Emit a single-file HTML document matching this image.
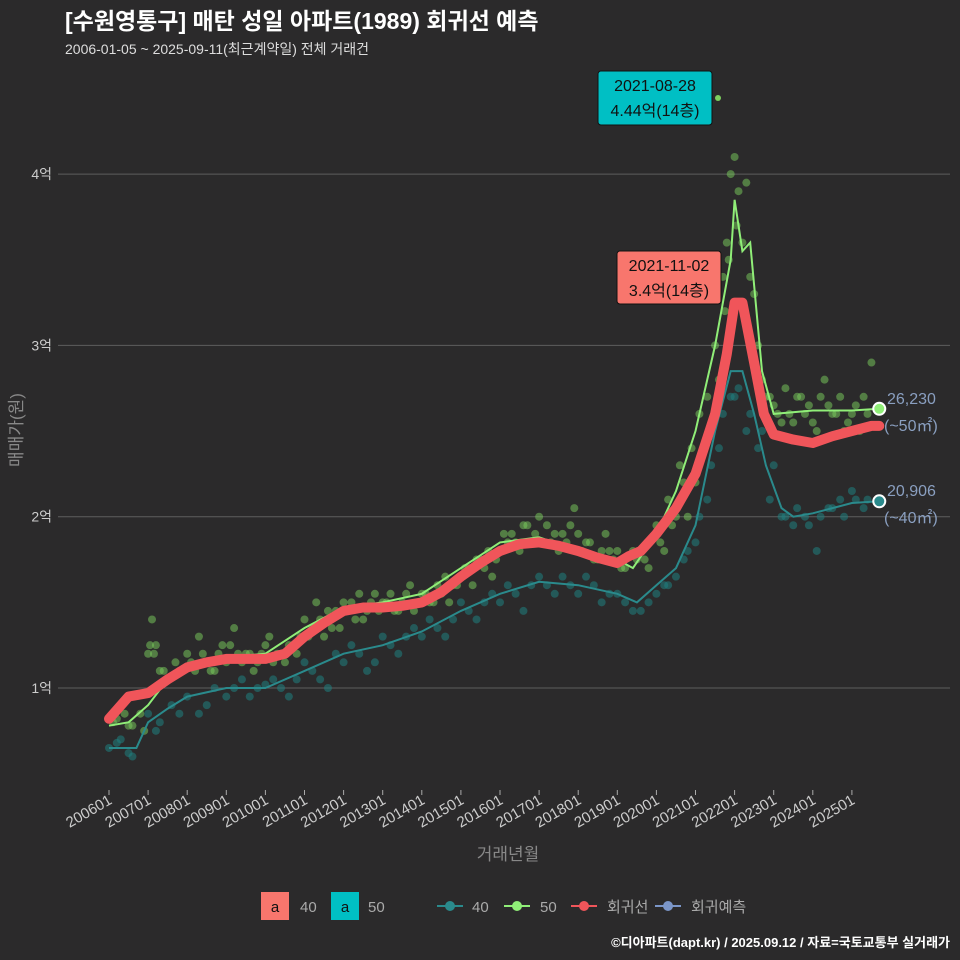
<!DOCTYPE html>
<html><head><meta charset="utf-8">
<style>
body{margin:0;background:#2b2a2b;}
svg{display:block;font-family:"Liberation Sans","Noto Sans CJK KR",sans-serif;}
</style></head>
<body>
<svg id="c" width="960" height="960">
<rect width="960" height="960" fill="#2b2a2b"/>
<text x="65" y="29" fill="#fff" font-size="23" font-weight="bold">[수원영통구] 매탄 성일 아파트(1989) 회귀선 예측</text>
<text x="65" y="54" fill="#ddd" font-size="14">2006-01-05 ~ 2025-09-11(최근계약일) 전체 거래건</text>
<g id="grid"></g><g id="xaxis"></g><g id="marks"></g>
<text transform="translate(22,430) rotate(-90)" text-anchor="middle" fill="#888" font-size="17">매매가(원)</text>
<text x="508" y="860" text-anchor="middle" fill="#888" font-size="17">거래년월</text>
<g font-size="15" fill="#aaa">
<rect x="261" y="892" width="28" height="28" fill="#f8766d"/>
<text x="275" y="912" text-anchor="middle" fill="#111">a</text><text x="300" y="912">40</text>
<rect x="331" y="892" width="28" height="28" fill="#00bfc4"/>
<text x="345" y="912" text-anchor="middle" fill="#111">a</text><text x="368" y="912">50</text>
<line x1="437" y1="906" x2="463" y2="906" stroke="#2a8a8c" stroke-width="2"/><circle cx="450" cy="906" r="5" fill="#2a8a8c"/><text x="472" y="912">40</text>
<line x1="504" y1="906" x2="530" y2="906" stroke="#90ee78" stroke-width="2"/><circle cx="517" cy="906" r="5" fill="#90ee78"/><text x="540" y="912">50</text>
<line x1="571" y1="906" x2="597" y2="906" stroke="#f0555a" stroke-width="2"/><circle cx="584" cy="906" r="5" fill="#f0555a"/><text x="607" y="912">회귀선</text>
<line x1="655" y1="906" x2="681" y2="906" stroke="#7b96c8" stroke-width="2"/><circle cx="668" cy="906" r="5" fill="#7b96c8"/><text x="691" y="912">회귀예측</text>
</g>
<text x="950" y="947" text-anchor="end" fill="#fff" font-size="13" font-weight="bold">©디아파트(dapt.kr) / 2025.09.12 / 자료=국토교통부 실거래가</text>
</svg>
<script>
const yTicks=[1,2,3,4];
const yTickLabels=["1억","2억","3억","4억"];
const xTickYears=[2006,2007,2008,2009,2010,2011,2012,2013,2014,2015,2016,2017,2018,2019,2020,2021,2022,2023,2024,2025];
const regT=[2006.0,2006.5,2007.0,2007.5,2008.0,2008.5,2009.0,2009.5,2010.0,2010.5,2011.0,2011.5,2012.0,2012.5,2013.0,2013.5,2014.0,2014.5,2015.0,2015.5,2016.0,2016.5,2017.0,2017.5,2018.0,2018.5,2019.0,2019.3,2019.6,2020.0,2020.5,2021.0,2021.5,2021.8,2022.0,2022.2,2022.5,2022.75,2023.0,2023.5,2024.0,2024.5,2025.0,2025.5,2025.7];
const regV=[0.82,0.95,0.97,1.05,1.12,1.15,1.17,1.17,1.17,1.2,1.3,1.38,1.45,1.47,1.47,1.48,1.5,1.56,1.65,1.73,1.8,1.84,1.85,1.83,1.8,1.76,1.73,1.77,1.8,1.9,2.05,2.25,2.6,2.95,3.25,3.25,2.9,2.6,2.48,2.45,2.43,2.47,2.5,2.53,2.53];
const g50T=[2006.0,2006.5,2007.0,2007.5,2008.0,2009.0,2010.0,2011.0,2012.0,2013.0,2014.0,2015.0,2016.0,2017.0,2018.0,2019.0,2019.4,2020.0,2020.5,2021.0,2021.5,2021.9,2022.0,2022.2,2022.4,2022.7,2023.0,2024.0,2025.0,2025.7];
const g50V=[0.78,0.8,0.9,1.05,1.1,1.18,1.2,1.35,1.47,1.5,1.55,1.7,1.85,1.88,1.8,1.75,1.7,1.9,2.15,2.5,3.0,3.5,3.85,3.55,3.6,2.85,2.6,2.62,2.62,2.63];
const g40T=[2006.0,2006.7,2007.0,2007.5,2008.0,2009.0,2010.0,2011.0,2012.0,2013.0,2014.0,2015.0,2016.0,2017.0,2018.0,2019.0,2019.5,2020.0,2020.5,2021.0,2021.5,2021.9,2022.2,2022.5,2022.8,2023.2,2023.5,2024.0,2025.0,2025.7];
const g40V=[0.65,0.65,0.8,0.88,0.95,1.0,1.0,1.1,1.2,1.25,1.33,1.45,1.55,1.62,1.6,1.55,1.5,1.6,1.7,1.95,2.5,2.85,2.85,2.6,2.3,2.05,2.0,2.02,2.08,2.09];
const s50T=[2006.1,2006.4,2006.6,2006.9,2007.0,2007.1,2007.2,2007.4,2007.7,2008.0,2008.3,2008.6,2008.9,2009.2,2009.5,2009.8,2010.1,2010.4,2010.7,2011.0,2011.3,2011.6,2011.9,2012.2,2012.5,2012.8,2013.1,2013.4,2013.7,2014.0,2014.3,2014.6,2014.9,2015.2,2015.5,2015.8,2016.1,2016.4,2016.7,2017.0,2017.3,2017.6,2017.9,2018.2,2018.5,2018.8,2019.1,2019.4,2019.7,2020.0,2020.3,2020.6,2020.9,2021.1,2021.3,2021.5,2021.7,2021.8,2021.9,2022.0,2022.1,2022.3,2022.5,2022.7,2022.9,2023.1,2023.3,2023.5,2023.7,2023.9,2024.1,2024.3,2024.5,2024.7,2024.9,2025.1,2025.3,2025.5];
const s50V=[0.8,0.85,0.78,0.75,1.2,1.4,1.25,1.1,1.15,1.2,1.3,1.1,1.25,1.35,1.2,1.15,1.3,1.2,1.25,1.4,1.5,1.45,1.35,1.5,1.4,1.55,1.5,1.45,1.6,1.55,1.5,1.65,1.6,1.7,1.75,1.65,1.9,1.85,1.95,2.0,1.85,1.9,2.05,1.85,1.75,1.8,1.7,1.8,1.75,1.95,2.1,2.3,2.4,2.6,2.7,3.0,3.4,3.6,4.0,4.1,3.9,3.95,3.3,2.8,2.7,2.6,2.75,2.55,2.7,2.65,2.5,2.8,2.6,2.7,2.55,2.65,2.7,2.9];
const s50bT=[2006.2,2006.5,2006.8,2007.05,2007.15,2007.3,2007.5,2007.8,2008.1,2008.2,2008.4,2008.5,2008.7,2008.8,2009.0,2009.1,2009.3,2009.4,2009.6,2009.7,2009.9,2010.0,2010.2,2010.3,2010.5,2010.6,2010.8,2010.9,2011.1,2011.2,2011.4,2011.5,2011.7,2011.8,2012.0,2012.1,2012.3,2012.4,2012.6,2012.7,2012.9,2013.0,2013.2,2013.3,2013.5,2013.6,2013.8,2013.9,2014.1,2014.2,2014.4,2014.5,2014.7,2014.8,2015.0,2015.1,2015.3,2015.4,2015.6,2015.7,2015.9,2016.0,2016.2,2016.3,2016.5,2016.6,2016.8,2016.9,2017.1,2017.2,2017.4,2017.5,2017.7,2017.8,2018.0,2018.1,2018.3,2018.4,2018.6,2018.7,2018.9,2019.0,2019.2,2019.5,2019.8,2020.1,2020.2,2020.4,2020.5,2020.7,2020.8,2021.0,2021.2,2021.4,2021.6,2021.75,2021.85,2022.05,2022.2,2022.4,2022.6,2022.8,2023.0,2023.2,2023.4,2023.6,2023.8,2024.0,2024.2,2024.4,2024.6,2024.8,2025.0,2025.2,2025.4];
const s50bV=[0.82,0.78,0.85,1.25,1.2,1.1,1.05,1.1,1.15,1.1,1.2,1.15,1.1,1.2,1.15,1.25,1.2,1.15,1.2,1.1,1.2,1.25,1.15,1.2,1.15,1.25,1.2,1.3,1.3,1.35,1.4,1.3,1.35,1.45,1.5,1.45,1.4,1.55,1.45,1.5,1.45,1.5,1.55,1.45,1.5,1.55,1.45,1.5,1.55,1.5,1.6,1.55,1.5,1.6,1.65,1.7,1.6,1.75,1.7,1.8,1.75,1.8,1.85,1.9,1.8,1.95,1.85,1.9,1.85,1.95,1.9,1.8,1.85,1.95,1.9,1.8,1.85,1.75,1.8,1.9,1.75,1.8,1.7,1.75,1.7,1.85,1.8,1.95,2.0,2.2,2.0,2.2,2.4,2.5,2.8,3.2,3.5,3.7,3.6,3.4,3.0,2.7,2.65,2.55,2.6,2.7,2.6,2.55,2.7,2.65,2.6,2.5,2.6,2.5,2.6];
const s40T=[2006.0,2006.3,2006.6,2007.0,2007.3,2007.6,2008.0,2008.3,2008.7,2009.0,2009.4,2009.8,2010.2,2010.6,2011.0,2011.4,2011.8,2012.2,2012.6,2013.0,2013.4,2013.8,2014.2,2014.6,2015.0,2015.4,2015.8,2016.2,2016.6,2017.0,2017.4,2017.8,2018.2,2018.6,2019.0,2019.4,2019.8,2020.2,2020.5,2020.8,2021.1,2021.4,2021.7,2022.0,2022.3,2022.6,2022.9,2023.2,2023.5,2023.8,2024.1,2024.4,2024.7,2025.0,2025.3];
const s40V=[0.65,0.7,0.6,0.85,0.8,0.9,0.95,0.85,1.0,0.95,1.05,1.0,1.05,0.95,1.15,1.05,1.2,1.25,1.1,1.3,1.2,1.35,1.4,1.3,1.5,1.4,1.55,1.6,1.45,1.65,1.55,1.6,1.65,1.5,1.55,1.45,1.5,1.6,1.65,1.8,2.0,2.3,2.6,2.7,2.5,2.4,2.1,2.0,1.95,2.0,1.8,2.05,2.1,2.15,2.05];
const s40bT=[2006.2,2006.5,2007.2,2007.8,2008.5,2009.2,2009.6,2010.0,2010.4,2010.8,2011.2,2011.6,2012.0,2012.4,2012.8,2013.2,2013.6,2014.0,2014.4,2014.8,2015.2,2015.6,2016.0,2016.4,2016.8,2017.2,2017.6,2018.0,2018.4,2018.8,2019.2,2019.6,2020.0,2020.3,2020.7,2021.0,2021.3,2021.6,2021.9,2022.1,2022.4,2022.7,2023.0,2023.3,2023.6,2023.9,2024.2,2024.5,2024.8,2025.1,2025.4];
const s40bV=[0.68,0.62,0.75,0.85,0.9,1.0,0.95,1.02,1.0,1.05,1.1,1.0,1.15,1.2,1.15,1.25,1.3,1.3,1.35,1.4,1.45,1.5,1.5,1.55,1.6,1.6,1.65,1.55,1.6,1.55,1.5,1.45,1.55,1.6,1.75,1.85,2.1,2.4,2.7,2.75,2.6,2.5,2.3,2.0,2.05,1.95,2.0,2.05,2.0,2.1,2.1];
const ns="http://www.w3.org/2000/svg";
const X0=58,X1=950;
function xs(t){return 109+(t-2006)*39.1;}
function ys(v){return 688-(v-1)*171.3;}
function mk(tag,at,parent){const e=document.createElementNS(ns,tag);for(const k in at)e.setAttribute(k,at[k]);parent.appendChild(e);return e;}
const grid=document.getElementById('grid'),xa=document.getElementById('xaxis'),mg=document.getElementById('marks');
yTicks.forEach((v,i)=>{
 const l=mk('line',{x1:X0,x2:X1,y1:ys(v),y2:ys(v),stroke:'#5e5e5e','stroke-width':1},grid);
 
 
 const t=mk('text',{x:52,y:ys(v)+5,'text-anchor':'end',fill:'#ccc','font-size':14},grid);
 t.textContent=yTickLabels[i];
 
 
});
xTickYears.forEach(y=>{
 const x=xs(y);
 mk('line',{x1:x,x2:x,y1:790,y2:795,stroke:'#aaa'},xa);
 const t=mk('text',{transform:`translate(${x+4},${803}) rotate(-30)`,'text-anchor':'end',fill:'#ccc','font-size':15},xa);
 t.textContent=y+'01';
 
 
});
function pts(T,V){return T.map((t,i)=>xs(t).toFixed(1)+','+ys(V[i]).toFixed(1)).join(' ');}
function dots(T,V,col,op,name){T.forEach((t,i)=>{const c=mk('circle',{cx:xs(t),cy:ys(V[i]),r:4,fill:col,'fill-opacity':op},mg);
 
 });}
dots(s40T,s40V,'#1f8080',0.55,'point-40');
dots(s40bT,s40bV,'#1f8080',0.55,'point-40');
dots(s50T,s50V,'#7ccf5e',0.5,'point-50');
dots(s50bT,s50bV,'#7ccf5e',0.5,'point-50');
const l40=mk('polyline',{points:pts(g40T,g40V),fill:'none',stroke:'#2a8a8c','stroke-width':2},mg);


const l50=mk('polyline',{points:pts(g50T,g50V),fill:'none',stroke:'#90ee78','stroke-width':2},mg);


const lr=mk('polyline',{points:pts(regT,regV),fill:'none',stroke:'#f0555a','stroke-width':10,'stroke-linejoin':'round','stroke-linecap':'round'},mg);


const e50=mk('circle',{cx:xs(g50T[g50T.length-1]),cy:ys(g50V[g50V.length-1]),r:6,fill:'#90ee78',stroke:'#fff','stroke-width':2},mg);


const e40=mk('circle',{cx:xs(g40T[g40T.length-1]),cy:ys(g40V[g40V.length-1]),r:6,fill:'#2a8a8c',stroke:'#fff','stroke-width':2},mg);


function lab(x,y,s,n){const t=mk('text',{x:x,y:y,fill:'#8a9fc0','font-size':16},mg);t.textContent=s;
 
 }
lab(887,404,'26,230','end-label-50');lab(884,431,'(~50㎡)','end-unit-50');
lab(887,496,'20,906','end-label-40');lab(884,523,'(~40㎡)','end-unit-40');
const pk=mk('circle',{cx:718,cy:98,r:3,fill:'#7ccf5e'},mg);


function box(x,y,w,h,col,l1,l2,n){const g=mk('g',{},mg);
 
 
 mk('rect',{x:x,y:y,width:w,height:h,rx:3,fill:col,stroke:'#111'},g);
 const a=mk('text',{x:x+w/2,y:y+20,'text-anchor':'middle',fill:'#111','font-size':16},g);a.textContent=l1;
 const b=mk('text',{x:x+w/2,y:y+45,'text-anchor':'middle',fill:'#111','font-size':16},g);b.textContent=l2;}
box(598,71,114,54,'#00bfc4','2021-08-28','4.44억(14층)','annotation-max');
box(617,251,104,53,'#f8766d','2021-11-02','3.4억(14층)','annotation-recent');
</script>
</body></html>
